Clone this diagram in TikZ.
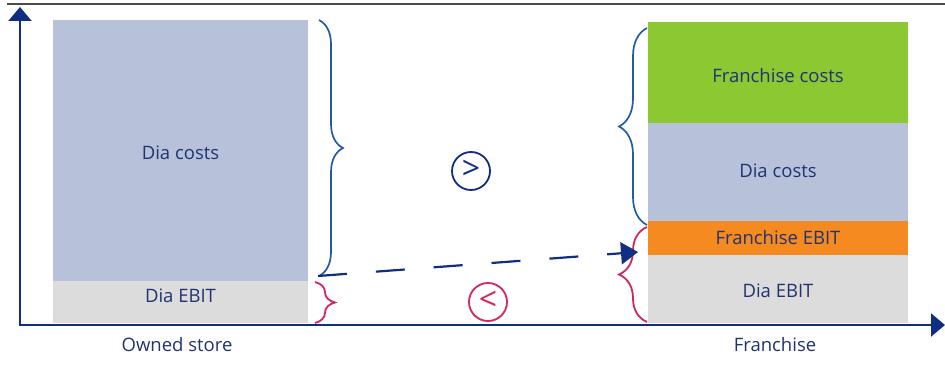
\documentclass[tikz,border=0pt]{standalone}
\usepackage{fontspec}
\setmainfont{Open Sans}
\usepackage{xcolor}
\usetikzlibrary{arrows.meta, positioning, calc, decorations.pathreplacing}

\definecolor{axisblue}{RGB}{16,46,130}
\definecolor{textblue}{RGB}{33,51,112}
\definecolor{braceblue}{RGB}{38,90,166}
\definecolor{bracepink}{RGB}{210,38,92}
\definecolor{costblue}{RGB}{183,194,218}
\definecolor{ebitgray}{RGB}{220,220,220}
\definecolor{frgreen}{RGB}{139,200,50}
\definecolor{frorange}{RGB}{245,138,32}

\newcommand{\shifttext}[2]{\raisebox{#1}[\height][\depth]{#2}}

\begin{document}
\begin{tikzpicture}[x=1pt, y=1pt,
    bar/.style={rectangle, inner sep=0pt, outer sep=0pt, text=textblue,
        font=\fontsize{18.5}{21}\selectfont},
    axis/.style={draw=axisblue, line width=2.2pt, -{Triangle[length=14pt, width=23pt]}},
    bluebrace/.style={draw=braceblue, line width=1.7pt, decorate,
        decoration={brace, amplitude=#1}},
    pinkbrace/.style={draw=bracepink, line width=1.8pt, decorate,
        decoration={brace, amplitude=#1}},
    cmp/.style={circle, draw, line width=1.8pt, minimum size=38pt, inner sep=0pt,
        font=\fontsize{32}{32}\selectfont}]
    \useasboundingbox (0,0) rectangle (945,365);
    \draw[line width=2pt, black!70] (7,361) -- (945,361);

    % owned store
    \node[bar, fill=ebitgray, minimum width=255pt, minimum height=42pt]
        (ownebit) at (180.5,63) {\shifttext{6pt}{Dia EBIT}};
    \node[bar, fill=costblue, minimum width=255pt, minimum height=261pt,
        above=0pt of ownebit] (owncost) {\shifttext{-2pt}{Dia costs}};

    % franchise
    \node[bar, fill=ebitgray, minimum width=260pt, minimum height=68pt]
        (frdebit) at (778,76) {\shifttext{-2pt}{Dia EBIT}};
    \node[bar, fill=frorange, minimum width=260pt, minimum height=34pt,
        above=0pt of frdebit] (frfebit) {Franchise EBIT};
    \node[bar, fill=costblue, minimum width=260pt, minimum height=98pt,
        above=0pt of frfebit] (frdcost) {\shifttext{1pt}{Dia costs}};
    \node[bar, fill=frgreen, minimum width=260pt, minimum height=101pt,
        above=0pt of frdcost] (frfcost) {\shifttext{-3pt}{Franchise costs}};

    % axes
    \coordinate (origin) at (20,40);
    \draw[axis] (origin) -- (20,358);
    \draw[axis] ($(origin)+(-1,0)$) -- (945,40);
    \node[font=\fontsize{18.5}{21}\selectfont, text=textblue] (ownlabel)
        at (177,20) {Owned store};
    \node[font=\fontsize{18.5}{21}\selectfont, text=textblue] (frlabel)
        at (775,20) {Franchise};

    % braces
    \draw[bluebrace=24pt] ($(owncost.north east)+(11,0)$) -- ($(owncost.south east)+(11,5)$);
    \draw[pinkbrace=20pt] ($(ownebit.north east)+(7,-1)$) -- ($(ownebit.south east)+(7,0)$);
    \draw[bluebrace=28pt] ($(frdcost.south west)+(-1,-4)$) -- ($(frfcost.north west)+(-1,-6)$);
    \draw[pinkbrace=28pt] ($(frdebit.south west)+(-1,1)$) -- ($(frfebit.north west)+(-1,-6)$);

    % comparison
    \node[cmp, draw=axisblue, text=axisblue] (more) at (471,194) {\raisebox{2pt}{>}};
    \node[cmp, draw=bracepink, text=bracepink] (less) at (488,63) {\raisebox{2pt}{<}};

    \coordinate (dashstart) at ($(owncost.south east)+(10,5)$);
    \coordinate (dashend) at ($(frdebit.north west)+(-10,3)$);
    \draw[axisblue, line width=2.2pt, dash pattern=on 29pt off 29pt,
        -{Triangle[length=17pt, width=22pt]}] (dashstart) -- (dashend);
\end{tikzpicture}
\end{document}
